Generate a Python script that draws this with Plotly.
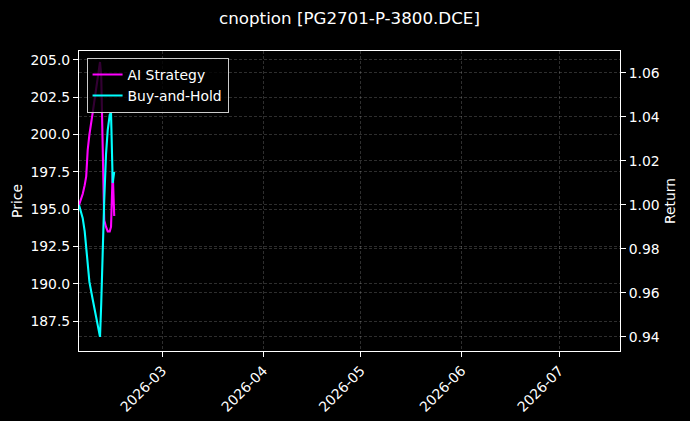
import plotly.graph_objects as go

dates = [
    "2026-02-03 08:24", "2026-02-04 11:43", "2026-02-05 02:28", "2026-02-05 13:34",
    "2026-02-06 00:37", "2026-02-06 13:11", "2026-02-07 13:32", "2026-02-09 02:27",
    "2026-02-09 19:26", "2026-02-10 04:17", "2026-02-10 15:22", "2026-02-11 02:27",
    "2026-02-11 15:43", "2026-02-12 04:16", "2026-02-12 19:02", "2026-02-13 04:38",
    "2026-02-13 12:01", "2026-02-13 17:11", "2026-02-14 04:16",
]
ai_strategy = [1.000, 1.005, 1.009, 1.013, 1.025, 1.032, 1.042, 1.058, 1.065, 1.059,
               1.023, 0.993, 0.990, 0.988, 0.988, 0.990, 1.005, 1.015, 0.995]
buy_hold = [1.000, 0.994, 0.988, 0.980, 0.971, 0.965, 0.957, 0.945, 0.940, 0.955,
            0.982, 1.002, 1.023, 1.034, 1.041, 1.042, 1.023, 1.010, 1.015]

x_ticks = ["2026-03-01", "2026-04-01", "2026-05-01", "2026-06-01", "2026-07-01"]
x_tick_labels = ["2026-03", "2026-04", "2026-05", "2026-06", "2026-07"]
price_ticks = [187.5, 190.0, 192.5, 195.0, 197.5, 200.0, 202.5, 205.0]
return_ticks = [0.94, 0.96, 0.98, 1.00, 1.02, 1.04, 1.06]

FONT = "DejaVu Sans"
FS = 13.9
GRID = "rgba(255,255,255,0.18)"

fig = go.Figure()
# placeholder on the price axis so the left axis is drawn (price line not visible in the reference)
fig.add_trace(go.Scatter(x=[dates[0]], y=[None], mode="lines", showlegend=False,
                         hoverinfo="skip", yaxis="y"))
fig.add_trace(go.Scatter(x=dates, y=ai_strategy, name="AI Strategy", mode="lines",
                         line=dict(color="#ff00ff", width=2.1), yaxis="y2"))
fig.add_trace(go.Scatter(x=dates, y=buy_hold, name="Buy-and-Hold", mode="lines",
                         line=dict(color="#00ffff", width=2.1), yaxis="y2"))

axis_common = dict(showline=True, linecolor="white", linewidth=1, ticks="outside",
                   ticklen=5, tickcolor="white", tickwidth=1, zeroline=False,
                   showgrid=True, gridcolor=GRID, griddash="3px,2px", gridwidth=0.6,
                   automargin=False,
                   tickfont=dict(color="white", size=FS, family=FONT))

fig.update_layout(
    width=690, height=421,
    paper_bgcolor="black", plot_bgcolor="black",
    margin=dict(l=79, r=70, t=51, b=70),
    font=dict(family=FONT, color="white", size=FS),
    title=dict(text="cnoption [PG2701-P-3800.DCE]", x=0.5, xref="paper",
               xanchor="center", y=0.957, yref="container", yanchor="middle",
               font=dict(size=16.7, color="white", family=FONT)),
    xaxis=dict(axis_common, type="date", range=["2026-02-03 08:24", "2026-07-19 16:00"],
               tickvals=x_ticks, ticktext=x_tick_labels, tickangle=-45, mirror=True),
    yaxis=dict(axis_common, range=[185.5, 205.6], tickvals=price_ticks,
               tickformat=".1f", title=dict(text="Price", standoff=4,
               font=dict(size=FS, color="white")), mirror=False),
    yaxis2=dict(axis_common, overlaying="y", side="right", range=[0.9336, 1.07],
                tickvals=return_ticks, tickformat=".2f",
                title=dict(text="Return", standoff=6, font=dict(size=FS, color="white"))),
    legend=dict(x=0.014, y=0.977, xanchor="left", yanchor="top",
                bgcolor="rgba(0,0,0,0.8)", bordercolor="#cccccc", borderwidth=1,
                itemwidth=30, tracegroupgap=0,
                font=dict(size=FS, color="white", family=FONT)),
    showlegend=True,
)

fig.write_html("out.html",
               config={"displayModeBar": False},
               post_script="document.body.style.margin='0';"
                           "document.body.style.background='black';")
